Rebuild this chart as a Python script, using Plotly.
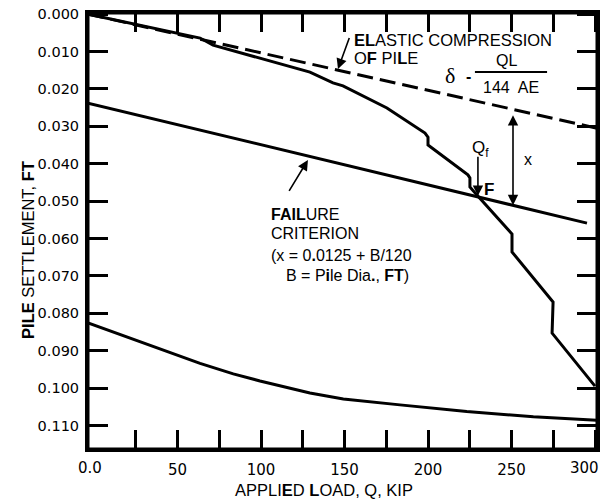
import plotly.graph_objects as go

# ---- data ----
load_curve_q = [-3.6, 63.5, 71.3, 99.4, 129.3, 143.1, 149.1, 175.4, 198.2, 200.0, 200.0, 202.4,
                223.9, 225.1, 225.1, 229.3, 249.1, 250.3, 250.3, 274.9, 274.3, 300.0]
load_curve_s = [0.0000, 0.0064, 0.0083, 0.0117, 0.0155, 0.0184, 0.0192, 0.0251, 0.0318, 0.0329, 0.0350, 0.0358,
                0.0430, 0.0438, 0.0462, 0.0484, 0.0583, 0.0588, 0.0636, 0.0770, 0.0853, 0.0995]

elastic_q = [-3.6, 301.2]
elastic_s = [0.0000, 0.0305]

failure_q = [-3.6, 295.2]
failure_s = [0.0238, 0.0559]

lower_q = [-3.6, 63.5, 83.4, 99.4, 129.3, 149.3, 183.2, 223.2, 263.1, 301.0]
lower_s = [0.0826, 0.0934, 0.0962, 0.0981, 0.1013, 0.1029, 0.1045, 0.1063, 0.1077, 0.1086]

x_tick_vals = [25, 50, 75, 100, 125, 150, 175, 200, 225, 250, 275, 300]
x_tick_text = ["", "50", "", "100", "", "150", "", "200", "", "250", "", ""]
y_tick_vals = [0.000, 0.010, 0.020, 0.030, 0.040, 0.050, 0.060, 0.070, 0.080, 0.090, 0.100, 0.110]
y_tick_text = ["0.000", "0.010", "0.020", "0.030", "0.040", "0.050", "0.060", "0.070", "0.080",
               "0.090", "0.100", "0.110"]

TXT = "Liberation Sans, Arial, sans-serif"
TICK = "DejaVu Sans, sans-serif"

fig = go.Figure()
fig.add_trace(go.Scatter(x=elastic_q, y=elastic_s, mode="lines",
                         line=dict(color="black", width=3, dash="16px,7px"), hoverinfo="skip"))
fig.add_trace(go.Scatter(x=load_curve_q, y=load_curve_s, mode="lines",
                         line=dict(color="black", width=3), hoverinfo="skip"))
fig.add_trace(go.Scatter(x=failure_q, y=failure_s, mode="lines",
                         line=dict(color="black", width=3), hoverinfo="skip"))
fig.add_trace(go.Scatter(x=lower_q, y=lower_s, mode="lines",
                         line=dict(color="black", width=3), hoverinfo="skip"))

ann = []
def txt(x, y, s, size=16, xa="left", ya="middle", fam=TXT, **kw):
    d = dict(x=x, y=y, text=s, showarrow=False, xanchor=xa, yanchor=ya,
             font=dict(family=fam, size=size, color="black"))
    d.update(kw)
    ann.append(d)

def arrow(x, y, ax, ay, **kw):
    d = dict(x=x, y=y, ax=ax, ay=ay, text=" ", showarrow=True, arrowhead=2,
             arrowsize=1.3, arrowwidth=1.6, arrowcolor="black", standoff=0,
             font=dict(size=1))
    d.update(kw)
    ann.append(d)

txt(154.5, 0.0069, "<b>EL</b>ASTIC COMPRESSION", size=16.5)
txt(154.5, 0.0117, "O<b>F</b> PI<b>L</b>E", size=16.5)
txt(213.2, 0.0163, "δ", size=22, xa="center", fam="Liberation Serif, serif")
txt(224.0, 0.0168, "<b>-</b>", size=16, xa="center")
txt(247.3, 0.0123, "QL", size=16, xa="center")
txt(249.7, 0.0195, "144  AE", size=16, xa="center")
txt(259.9, 0.0390, "x", size=16, xa="center")
txt(225.1, 0.0360, "Q<sub>f</sub>", size=17)
txt(236.5, 0.0468, "<b>F</b>", size=17, xa="center")
txt(104.5, 0.0536, "<b>FAIL</b>URE", size=16)
txt(104.5, 0.0587, "CRITERION", size=16)
txt(104.5, 0.0645, "(x = 0<b>.</b>0125 + B/120", size=16)
txt(113.8, 0.0700, "B = P<b>i</b>le Dia<b>.</b>, <b>FT</b>)", size=16)

arrow(146.1, 0.0147, 12, -33)
arrow(128.1, 0.0390, -20, 33)
arrow(229.9, 0.0486, 0, -41)
arrow(250.9, 0.0511, 0, -92, arrowside="end+start")

# axis titles and the end labels of the x axis
ann.append(dict(x=0.4627, y=-0.094, xref="paper", yref="paper", text="APPLI<b>E</b>D <b>L</b>OAD, Q, KIP",
                showarrow=False, xanchor="center", yanchor="middle",
                font=dict(family=TXT, size=16.5, color="black")))
ann.append(dict(x=-0.118, y=0.4564, xref="paper", yref="paper", text="<b>PILE</b> SETTLEMENT, <b>FT</b>",
                showarrow=False, xanchor="center", yanchor="middle", textangle=-90,
                font=dict(family=TXT, size=16.5, color="black")))
ann.append(dict(x=0.004, y=-0.0436, xref="paper", yref="paper", text="0.0",
                showarrow=False, xanchor="center", yanchor="middle",
                font=dict(family=TICK, size=15, color="black")))
ann.append(dict(x=0.976, y=-0.0436, xref="paper", yref="paper", text="300",
                showarrow=False, xanchor="center", yanchor="middle",
                font=dict(family=TICK, size=15, color="black")))

fig.update_layout(
    width=600, height=502, autosize=False,
    margin=dict(l=88, r=3, t=13, b=53),
    paper_bgcolor="white", plot_bgcolor="white",
    showlegend=False,
    annotations=ann,
    shapes=[dict(type="line", xref="x", yref="y", x0=228.1, x1=271.3, y0=0.0155, y1=0.0155,
                 line=dict(color="black", width=2)),
            dict(type="rect", xref="paper", yref="paper", x0=0, x1=1, y0=0, y1=1,
                 line=dict(color="black", width=3), fillcolor="rgba(0,0,0,0)", layer="above")],
    xaxis=dict(range=[-3.6, 301.2], tickmode="array", tickvals=x_tick_vals, ticktext=x_tick_text,
               ticks="inside", ticklen=19, tickwidth=3, tickcolor="black", automargin=False,
               showline=True, linecolor="black", linewidth=3, mirror="ticks",
               showgrid=False, zeroline=False, ticklabelstandoff=5, ticklabeloverflow="allow",
               tickfont=dict(family=TICK, size=15, color="black")),
    yaxis=dict(range=[0.1163, -0.0003], tickmode="array", tickvals=y_tick_vals, ticktext=y_tick_text,
               ticks="inside", ticklen=20, tickwidth=3, tickcolor="black", automargin=False,
               showline=True, linecolor="black", linewidth=3, mirror="ticks",
               showgrid=False, zeroline=False, ticklabelstandoff=3, ticklabeloverflow="allow",
               tickfont=dict(family=TICK, size=14.5, color="black")),
)

fig.write_html("out.html", config={"displayModeBar": False},
               post_script="document.body.style.margin='0';document.body.style.overflow='hidden';")
